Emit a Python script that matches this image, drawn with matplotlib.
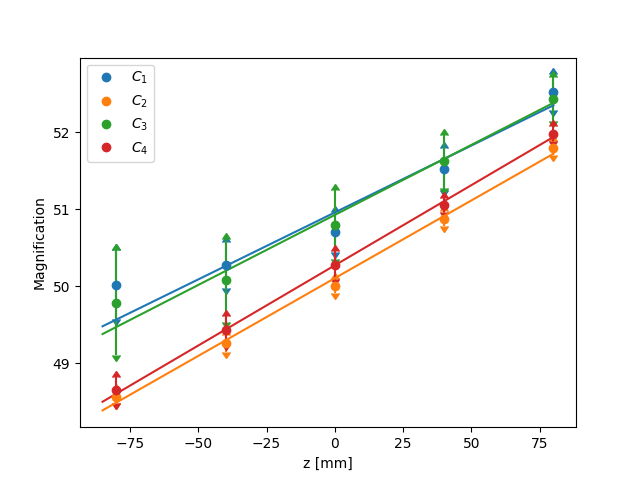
import numpy as np
import matplotlib
matplotlib.use("Agg")
import matplotlib.pyplot as plt

# positions along the axis [mm]
z = np.array([-80, -40, 0, 40, 80])

# magnification per camera
c1 = np.array([50.02, 50.28, 50.70, 51.52, 52.52])
c2 = np.array([48.57, 49.26, 50.00, 50.88, 51.80])
c3 = np.array([49.79, 50.08, 50.80, 51.62, 52.43])
c4 = np.array([48.65, 49.43, 50.28, 51.06, 51.98])

# uncertainties
c1_err = np.array([0.45, 0.30, 0.26, 0.27, 0.23])
c2_err = np.array([0.09, 0.11, 0.09, 0.10, 0.09])
c3_err = np.array([0.68, 0.54, 0.45, 0.35, 0.28])
c4_err = np.array([0.17, 0.18, 0.18, 0.09, 0.10])

labels = ["$C_1$", "$C_2$", "$C_3$", "$C_4$"]
values = [c1, c2, c3, c4]
errors = [c1_err, c2_err, c3_err, c4_err]
colors = ["C0", "C1", "C2", "C3"]

fig, ax = plt.subplots(figsize=(6.4, 4.8), dpi=100)

# error bars with arrow heads at both ends
for y, err, col in zip(values, errors, colors):
    ax.errorbar(z, y, yerr=err, fmt="none", color=col, lolims=True)
    ax.errorbar(z, y, yerr=err, fmt="none", color=col, uplims=True)

# weighted linear fits
z_fit = np.linspace(-85, 80, 2)
for y, err, col in zip(values, errors, colors):
    p = np.polyfit(z, y, 1, w=1 / err)
    ax.plot(z_fit, np.polyval(p, z_fit), color=col)

# data points
for y, col, lab in zip(values, colors, labels):
    ax.plot(z, y, "o", color=col, label=lab)

ax.set_xlabel("z [mm]")
ax.set_ylabel("Magnification")
ax.legend(loc="upper left")

fig.savefig("out.png")
